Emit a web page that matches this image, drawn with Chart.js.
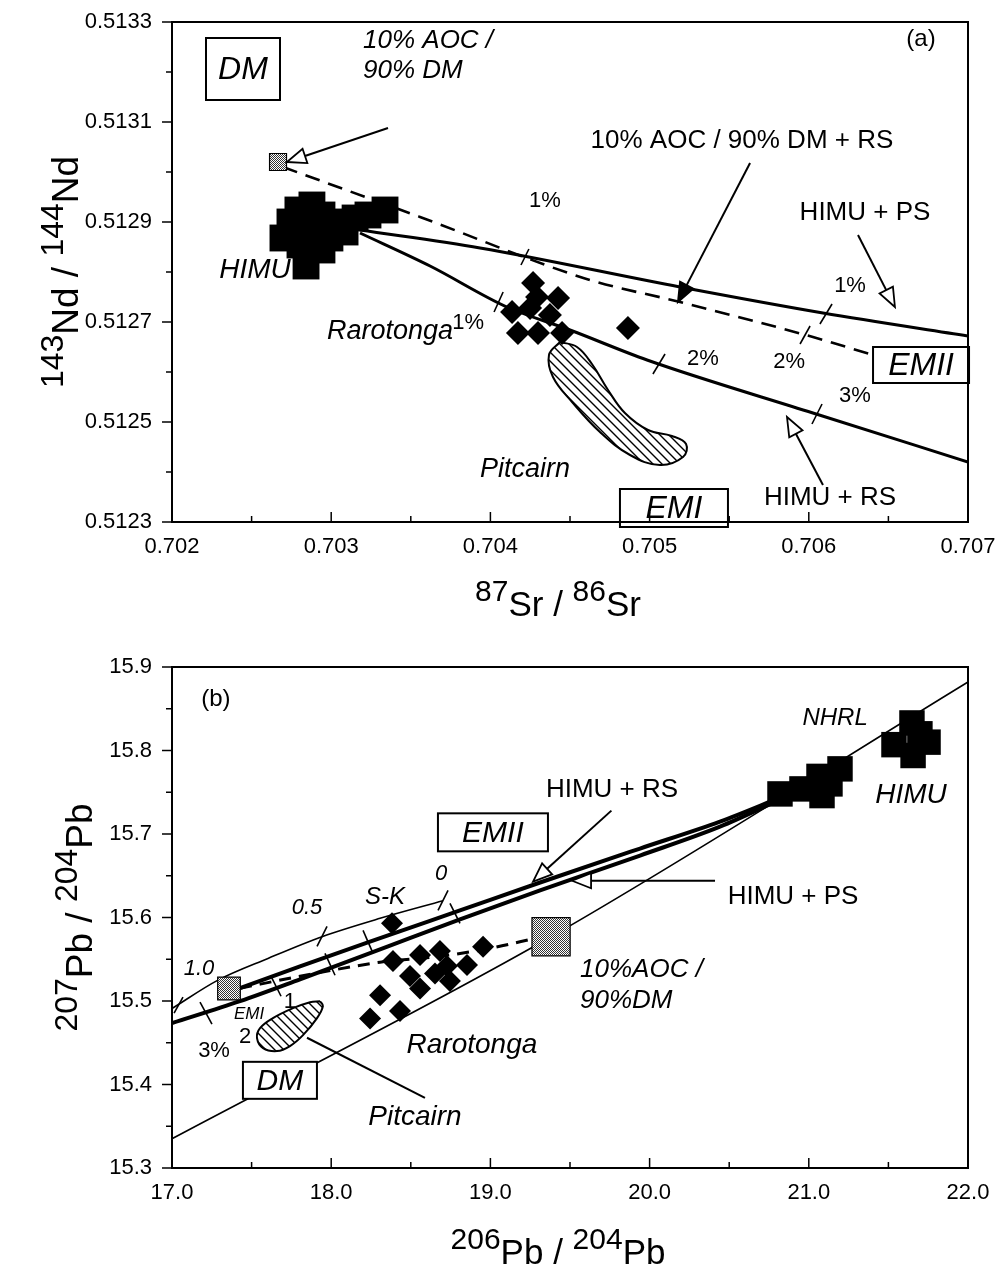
<!DOCTYPE html>
<html>
<head>
<meta charset="utf-8">
<script src="https://cdn.jsdelivr.net/npm/chart.js@4.4.1/dist/chart.umd.min.js"></script>
<style>
  html, body { margin: 0; padding: 0; background: #fff; }
  #wrap { position: relative; width: 999px; height: 1278px; }
  canvas { position: absolute; left: 0; }
  #chartA { top: 0; }
  #chartB { top: 640px; }
</style>
</head>
<body>
<div id="wrap">
  <canvas id="chartA" width="999" height="640"></canvas>
  <canvas id="chartB" width="999" height="638"></canvas>
</div>
<script>
const FONT = '"Liberation Sans", Arial, Helvetica, sans-serif';
Chart.defaults.font.family = FONT;
Chart.defaults.color = '#000';

// ---------- panel (a): 87Sr/86Sr vs 143Nd/144Nd ----------
const aSrTicks = [0.702, 0.703, 0.704, 0.705, 0.706, 0.707];
const aNdTicks = [0.5123, 0.5125, 0.5127, 0.5129, 0.5131, 0.5133];

const aHimu = [
  [0.702697, 0.512868], [0.702741, 0.5129], [0.702791, 0.512924], [0.702804, 0.512854],
  [0.702842, 0.512812], [0.702867, 0.512884], [0.702942, 0.512844], [0.702942, 0.512914],
  [0.702992, 0.512868], [0.703043, 0.5129], [0.703087, 0.51288], [0.70315, 0.512908],
  [0.703231, 0.512914], [0.703338, 0.512924], [0.702879, 0.512934]
];
const aRarotonga = [
  [0.704268, 0.512778], [0.704425, 0.512748], [0.704374, 0.512714], [0.704136, 0.51272],
  [0.704249, 0.512728], [0.704173, 0.512678], [0.704299, 0.512678], [0.70445, 0.512678],
  [0.704864, 0.512688], [0.704293, 0.51275]
];
const aAocDm = [[0.702666, 0.51302]];
const aHimuPS = [
  [0.703181, 0.512884], [0.703935, 0.512848], [0.705191, 0.51277], [0.706089, 0.512718], [0.707, 0.512672]
];
const aHimuRS = [
  [0.703181, 0.512878], [0.703621, 0.512812], [0.704104, 0.51273], [0.7045, 0.512684],
  [0.704984, 0.512624], [0.706026, 0.512518], [0.707, 0.51242]
];
const aAocRS = [
  [0.702697, 0.51301], [0.703558, 0.51291], [0.704626, 0.512784], [0.705191, 0.51274],
  [0.706026, 0.51267], [0.706403, 0.512634]
];
const aPitcairn = [
  [0.704437, 0.51266], [0.704368, 0.512634], [0.704393, 0.51259], [0.704513, 0.51254],
  [0.704688, 0.51248], [0.704877, 0.512434], [0.705065, 0.512414], [0.70521, 0.51243],
  [0.705229, 0.512456], [0.70514, 0.512472], [0.70499, 0.512484], [0.704845, 0.512518],
  [0.704739, 0.512564], [0.704638, 0.512616], [0.704544, 0.51265], [0.704437, 0.51266]
];
// short marks across the mixing curves (1%, 2%, 3%)
const aMixTicks = [
  [[0.704192, 0.512814], [0.704242, 0.512846]],
  [[0.704023, 0.51272], [0.70408, 0.51276]],
  [[0.705021, 0.512596], [0.705097, 0.512636]],
  [[0.70607, 0.512696], [0.706146, 0.512736]],
  [[0.705945, 0.512656], [0.706008, 0.512692]],
  [[0.70602, 0.512496], [0.706083, 0.512536]]
];

// ---------- panel (b): 206Pb/204Pb vs 207Pb/204Pb ----------
const bPb6Ticks = [17.0, 18.0, 19.0, 20.0, 21.0, 22.0];
const bPb7Ticks = [15.3, 15.4, 15.5, 15.6, 15.7, 15.8, 15.9];

const bHimu = [
  [20.819, 15.748], [20.957, 15.754], [21.064, 15.769], [21.196, 15.778], [21.083, 15.746],
  [21.133, 15.76], [21.648, 15.833], [21.535, 15.807], [21.749, 15.81], [21.655, 15.794],
  [21.698, 15.82]
];
const bRarotonga = [
  [18.382, 15.593], [18.388, 15.548], [18.558, 15.555], [18.683, 15.56], [18.727, 15.542],
  [18.495, 15.53], [18.558, 15.515], [18.746, 15.524], [18.853, 15.543], [18.954, 15.565],
  [18.307, 15.507], [18.432, 15.488], [18.244, 15.479], [18.652, 15.533]
];
const bAocDm = [[19.381, 15.577]];
const bEmi = [[17.358, 15.515]];
const bNhrl = [[17.0, 15.335], [19.381, 15.577], [22.0, 15.882]];
const bSK = [[17.0, 15.491], [17.289, 15.525], [17.603, 15.551], [17.942, 15.577], [18.307, 15.599], [18.702, 15.62]];
const bHimuRS = [
  [17.427, 15.5153], [17.804, 15.5416], [18.357, 15.5786], [18.809, 15.6085], [19.312, 15.6419],
  [19.94, 15.6826], [20.442, 15.7148], [20.819, 15.7435]
];
const bHimuPS = [
  [17.0, 15.4735], [17.427, 15.4998], [17.804, 15.526], [18.357, 15.5655], [18.809, 15.5977],
  [19.312, 15.6324], [19.94, 15.6742], [20.442, 15.7088], [20.819, 15.7411]
];
const bAocEmi = [[17.427, 15.5153], [17.804, 15.5296], [18.307, 15.5464], [18.683, 15.5535], [18.997, 15.5631], [19.28, 15.575]];
const bPitcairn = [
  [17.93, 15.4998], [17.948, 15.4938], [17.911, 15.4795], [17.823, 15.4591], [17.741, 15.446],
  [17.66, 15.44], [17.572, 15.4436], [17.534, 15.4556], [17.553, 15.4675], [17.634, 15.4795],
  [17.76, 15.4914], [17.867, 15.4986], [17.93, 15.4998]
];
const bMixTicks = [
  [[17.013, 15.4855], [17.069, 15.5047]],
  [[17.911, 15.5655], [17.974, 15.5894]],
  [[18.671, 15.6085], [18.734, 15.6324]],
  [[17.176, 15.4986], [17.251, 15.4723]],
  [[17.622, 15.5296], [17.685, 15.5057]],
  [[17.961, 15.5571], [18.024, 15.5308]],
  [[18.2, 15.5846], [18.263, 15.5571]],
  [[18.746, 15.6168], [18.809, 15.593]]
];

// ---------- helpers ----------
function pts(arr) { return arr.map(p => ({ x: p[0], y: p[1] })); }

function hatchPattern() {
  const c = document.createElement('canvas');
  c.width = c.height = 9;
  const g = c.getContext('2d');
  g.fillStyle = '#fff'; g.fillRect(0, 0, 9, 9);
  g.strokeStyle = '#000'; g.lineWidth = 1.4;
  g.beginPath();
  g.moveTo(-1, -1); g.lineTo(10, 10);
  g.moveTo(-5.5, 3.5); g.lineTo(5.5, 14.5);
  g.moveTo(3.5, -5.5); g.lineTo(14.5, 5.5);
  g.stroke();
  return g.createPattern(c, 'repeat');
}
function stipplePattern() {
  const c = document.createElement('canvas');
  c.width = c.height = 2;
  const g = c.getContext('2d');
  g.fillStyle = '#fff'; g.fillRect(0, 0, 2, 2);
  g.fillStyle = '#333'; g.fillRect(0, 0, 1, 1); g.fillRect(1, 1, 1, 1);
  return g.createPattern(c, 'repeat');
}
const HATCH = hatchPattern();
const STIPPLE = stipplePattern();

function lineSet(data, width, dash, order) {
  return {
    data: pts(data), showLine: true, borderColor: '#000', borderWidth: width,
    borderDash: dash || [], pointRadius: 0, pointHoverRadius: 0, fill: false,
    cubicInterpolationMode: 'monotone', order: order || 5
  };
}
function markSet(data, style, r, color, order) {
  return {
    data: pts(data), pointStyle: style, pointRadius: r, pointHoverRadius: r,
    backgroundColor: color, borderColor: '#000', borderWidth: color === '#000' ? 0 : 1.2,
    order: order || 1
  };
}
function tickSets(list, width) {
  return list.map(seg => ({
    data: pts(seg), showLine: true, borderColor: '#000', borderWidth: width,
    pointRadius: 0, pointHoverRadius: 0, order: 4
  }));
}
function blobSet(data) {
  return {
    data: pts(data), showLine: true, fill: 'shape', backgroundColor: HATCH,
    borderColor: '#000', borderWidth: 2, tension: 0.4, pointRadius: 0, pointHoverRadius: 0, order: 6
  };
}

function drawArrow(ctx, x1, y1, x2, y2, head) {
  const ang = Math.atan2(y2 - y1, x2 - x1);
  const L = 19, W = 7.5;
  const bx = x2 - L * Math.cos(ang), by = y2 - L * Math.sin(ang);
  ctx.strokeStyle = '#000'; ctx.lineWidth = 2;
  ctx.beginPath(); ctx.moveTo(x1, y1);
  if (head === 'none') { ctx.lineTo(x2, y2); ctx.stroke(); return; }
  ctx.lineTo(bx, by); ctx.stroke();
  ctx.beginPath();
  ctx.moveTo(x2, y2);
  ctx.lineTo(bx + W * Math.sin(ang), by - W * Math.cos(ang));
  ctx.lineTo(bx - W * Math.sin(ang), by + W * Math.cos(ang));
  ctx.closePath();
  ctx.fillStyle = head === 'filled' ? '#000' : '#fff';
  ctx.fill(); ctx.lineWidth = 1.8; ctx.stroke();
}

function drawLabel(ctx, l, x, y) {
  ctx.font = l.font + ' ' + FONT;
  ctx.textBaseline = 'middle';
  ctx.textAlign = l.align || 'center';
  if (l.box) {
    const w = l.box[0], h = l.box[1];
    ctx.fillStyle = '#fff'; ctx.fillRect(x - w / 2, y - h / 2, w, h);
    ctx.lineWidth = 2; ctx.strokeStyle = '#000'; ctx.strokeRect(x - w / 2, y - h / 2, w, h);
  }
  ctx.fillStyle = '#000';
  ctx.fillText(l.text, x, y + 1);
}

function drawRich(ctx, parts, cx, base) {
  let w = 0;
  parts.forEach(p => { ctx.font = p.f; w += ctx.measureText(p.t).width; });
  let x = cx - w / 2;
  ctx.textAlign = 'left'; ctx.textBaseline = 'alphabetic'; ctx.fillStyle = '#000';
  parts.forEach(p => { ctx.font = p.f; ctx.fillText(p.t, x, base + p.dy); x += ctx.measureText(p.t).width; });
}
function isoTitle(a, el, b, el2, dSize, lSize) {
  const dig = dSize + 'px ' + FONT, let_ = lSize + 'px ' + FONT;
  return [
    { t: a, f: dig, dy: -15 }, { t: el, f: let_, dy: 0 }, { t: ' / ', f: let_, dy: 0 },
    { t: b, f: dig, dy: -15 }, { t: el2, f: let_, dy: 0 }
  ];
}

function decor(cfg) {
  return {
    id: 'decor',
    afterDatasetsDraw(chart) {
      const ctx = chart.ctx;
      const X = v => chart.scales.x.getPixelForValue(v);
      const Y = v => chart.scales.y.getPixelForValue(v);
      ctx.save();
      cfg.arrows.forEach(a => drawArrow(ctx, X(a.from[0]), Y(a.from[1]), X(a.to[0]), Y(a.to[1]), a.head));
      cfg.labels.forEach(l => drawLabel(ctx, l, X(l.x), Y(l.y)));
      ctx.restore();
    },
    afterDraw(chart) {
      const { ctx, chartArea: a, scales } = chart;
      ctx.save();
      ctx.strokeStyle = '#000';
      ctx.lineWidth = 2;
      ctx.strokeRect(a.left, a.top, a.right - a.left, a.bottom - a.top);
      ctx.lineWidth = 1.5;
      // x ticks point inward, y ticks point outward; every other one is minor
      const nx = Math.round((cfg.xMax - cfg.xMin) / cfg.xMinor);
      for (let i = 0; i <= nx; i++) {
        const p = scales.x.getPixelForValue(cfg.xMin + i * cfg.xMinor);
        const len = i % 2 === 0 ? 10 : 6;
        ctx.beginPath(); ctx.moveTo(p, a.bottom); ctx.lineTo(p, a.bottom - len); ctx.stroke();
      }
      const ny = Math.round((cfg.yMax - cfg.yMin) / cfg.yMinor);
      for (let i = 0; i <= ny; i++) {
        const p = scales.y.getPixelForValue(cfg.yMin + i * cfg.yMinor);
        const len = i % 2 === 0 ? 10 : 6;
        ctx.beginPath(); ctx.moveTo(a.left, p); ctx.lineTo(a.left - len, p); ctx.stroke();
      }
      drawRich(ctx, cfg.xTitle, (a.left + a.right) / 2 - 12, cfg.xTitleBase);
      ctx.translate(cfg.yTitleBase, (a.top + a.bottom) / 2);
      ctx.rotate(-Math.PI / 2);
      drawRich(ctx, cfg.yTitle, 0, 0);
      ctx.restore();
    }
  };
}

function scaleOpts(min, max, tickList, digits, fitKey, fitVal, pad) {
  return {
    type: 'linear', min: min, max: max,
    grid: { display: false, drawTicks: false },
    border: { display: false },
    ticks: {
      padding: pad, color: '#000', font: { size: 22 },
      callback: v => Number(v).toFixed(digits)
    },
    afterBuildTicks: s => { s.ticks = tickList.map(v => ({ value: v })); },
    afterFit: s => {
      s[fitKey] = fitVal;
      s.paddingLeft = s.paddingRight = s.paddingTop = s.paddingBottom = 0;
    }
  };
}

// ---------- chart (a) ----------
const aLabels = [
  { text: '(a)', x: 0.706705, y: 0.513268, font: '24px' },
  { text: 'DM', x: 0.702446, y: 0.513206, font: 'italic 32px', box: [74, 62] },
  { text: '10% AOC /', x: 0.7032, y: 0.513264, font: 'italic 26px', align: 'left' },
  { text: '90% DM', x: 0.7032, y: 0.513204, font: 'italic 26px', align: 'left' },
  { text: '10% AOC / 90% DM + RS', x: 0.70558, y: 0.513064, font: '26px' },
  { text: 'HIMU + PS', x: 0.706353, y: 0.51292, font: '26px' },
  { text: 'HIMU', x: 0.702521, y: 0.512806, font: 'italic 28px' },
  { text: 'Rarotonga', x: 0.703369, y: 0.512684, font: 'italic 27px' },
  { text: 'Pitcairn', x: 0.704217, y: 0.512408, font: 'italic 27px' },
  { text: 'EMI', x: 0.705153, y: 0.512328, font: 'italic 32px', box: [108, 38] },
  { text: 'EMII', x: 0.706705, y: 0.512614, font: 'italic 32px', box: [96, 36] },
  { text: 'HIMU + RS', x: 0.706133, y: 0.51235, font: '26px' },
  { text: '1%', x: 0.704343, y: 0.512944, font: '22px' },
  { text: '1%', x: 0.70386, y: 0.5127, font: '22px' },
  { text: '2%', x: 0.705335, y: 0.512628, font: '22px' },
  { text: '2%', x: 0.705876, y: 0.512622, font: '22px' },
  { text: '1%', x: 0.706259, y: 0.512774, font: '22px' },
  { text: '3%', x: 0.70629, y: 0.512554, font: '22px' }
];
const aArrows = [
  { from: [0.703357, 0.513088], to: [0.702722, 0.51302], head: 'open' },
  { from: [0.705631, 0.513018], to: [0.705178, 0.51274], head: 'filled' },
  { from: [0.706309, 0.512874], to: [0.706541, 0.51273], head: 'open' },
  { from: [0.706089, 0.512374], to: [0.705863, 0.51251], head: 'open' }
];

new Chart(document.getElementById('chartA'), {
  type: 'scatter',
  data: {
    datasets: [
      markSet(aAocDm, 'rect', 12, STIPPLE, 0),
      markSet(aHimu, 'rect', 19, '#000', 1),
      markSet(aRarotonga, 'rectRot', 12, '#000', 1),
      lineSet(aHimuPS, 3),
      lineSet(aHimuRS, 3),
      lineSet(aAocRS, 2.6, [15, 9]),
      blobSet(aPitcairn)
    ].concat(tickSets(aMixTicks, 1.6))
  },
  options: {
    responsive: false, animation: false,
    layout: { autoPadding: false, padding: { left: 0, top: 22, right: 31, bottom: 0 } },
    plugins: { legend: { display: false }, tooltip: { enabled: false } },
    scales: {
      x: scaleOpts(0.702, 0.707, aSrTicks, 3, 'height', 118, 12),
      y: scaleOpts(0.5123, 0.5133, aNdTicks, 4, 'width', 172, 20)
    }
  },
  plugins: [decor({
    labels: aLabels, arrows: aArrows,
    xMin: 0.702, xMax: 0.707, xMinor: 0.0005,
    yMin: 0.5123, yMax: 0.5133, yMinor: 0.0001,
    xTitle: isoTitle('87', 'Sr', '86', 'Sr', 30, 35), xTitleBase: 616,
    yTitle: isoTitle('143', 'Nd', '144', 'Nd', 32, 37), yTitleBase: 78
  })]
});

// ---------- chart (b) ----------
const bLabels = [
  { text: '(b)', x: 17.276, y: 15.862, font: '24px' },
  { text: 'NHRL', x: 21.165, y: 15.84, font: 'italic 24px' },
  { text: 'HIMU', x: 21.642, y: 15.748, font: 'italic 28px' },
  { text: 'HIMU + RS', x: 19.764, y: 15.754, font: '26px' },
  { text: 'EMII', x: 19.016, y: 15.702, font: 'italic 30px', box: [110, 38] },
  { text: 'HIMU + PS', x: 20.901, y: 15.626, font: '26px' },
  { text: 'S-K', x: 18.338, y: 15.625, font: 'italic 24px' },
  { text: '0', x: 18.69, y: 15.654, font: 'italic 22px' },
  { text: '0.5', x: 17.848, y: 15.613, font: 'italic 22px' },
  { text: '1.0', x: 17.17, y: 15.54, font: 'italic 22px' },
  { text: '10%AOC /', x: 19.563, y: 15.539, font: 'italic 26px', align: 'left' },
  { text: '90%DM', x: 19.563, y: 15.502, font: 'italic 26px', align: 'left' },
  { text: 'EMI', x: 17.484, y: 15.485, font: 'italic 17px' },
  { text: '1', x: 17.741, y: 15.5, font: '22px' },
  { text: '2', x: 17.459, y: 15.458, font: '22px' },
  { text: '3%', x: 17.264, y: 15.441, font: '22px' },
  { text: 'Rarotonga', x: 18.884, y: 15.448, font: 'italic 28px' },
  { text: 'DM', x: 17.678, y: 15.405, font: 'italic 30px', box: [74, 37] },
  { text: 'Pitcairn', x: 18.526, y: 15.362, font: 'italic 28px' }
];
const bArrows = [
  { from: [19.76, 15.728], to: [19.268, 15.643], head: 'open' },
  { from: [20.411, 15.644], to: [19.513, 15.644], head: 'open' },
  { from: [17.848, 15.456], to: [18.589, 15.384], head: 'none' }
];

new Chart(document.getElementById('chartB'), {
  type: 'scatter',
  data: {
    datasets: [
      markSet(bAocDm, 'rect', 27, STIPPLE, 0),
      markSet(bEmi, 'rect', 16, STIPPLE, 0),
      markSet(bHimu, 'rect', 18, '#000', 1),
      markSet(bRarotonga, 'rectRot', 11, '#000', 1),
      lineSet(bNhrl, 1.6),
      lineSet(bSK, 1.6),
      lineSet(bHimuRS, 4),
      lineSet(bHimuPS, 4),
      lineSet(bAocEmi, 3, [12, 8]),
      blobSet(bPitcairn)
    ].concat(tickSets(bMixTicks, 1.6))
  },
  options: {
    responsive: false, animation: false,
    layout: { autoPadding: false, padding: { left: 0, top: 27, right: 31, bottom: 0 } },
    plugins: { legend: { display: false }, tooltip: { enabled: false } },
    scales: {
      x: scaleOpts(17, 22, bPb6Ticks, 1, 'height', 110, 12),
      y: scaleOpts(15.3, 15.9, bPb7Ticks, 1, 'width', 172, 20)
    }
  },
  plugins: [decor({
    labels: bLabels, arrows: bArrows,
    xMin: 17, xMax: 22, xMinor: 0.5,
    yMin: 15.3, yMax: 15.9, yMinor: 0.05,
    xTitle: isoTitle('206', 'Pb', '204', 'Pb', 30, 35), xTitleBase: 624,
    yTitle: isoTitle('207', 'Pb', '204', 'Pb', 32, 37), yTitleBase: 92
  })]
});
</script>
</body>
</html>
